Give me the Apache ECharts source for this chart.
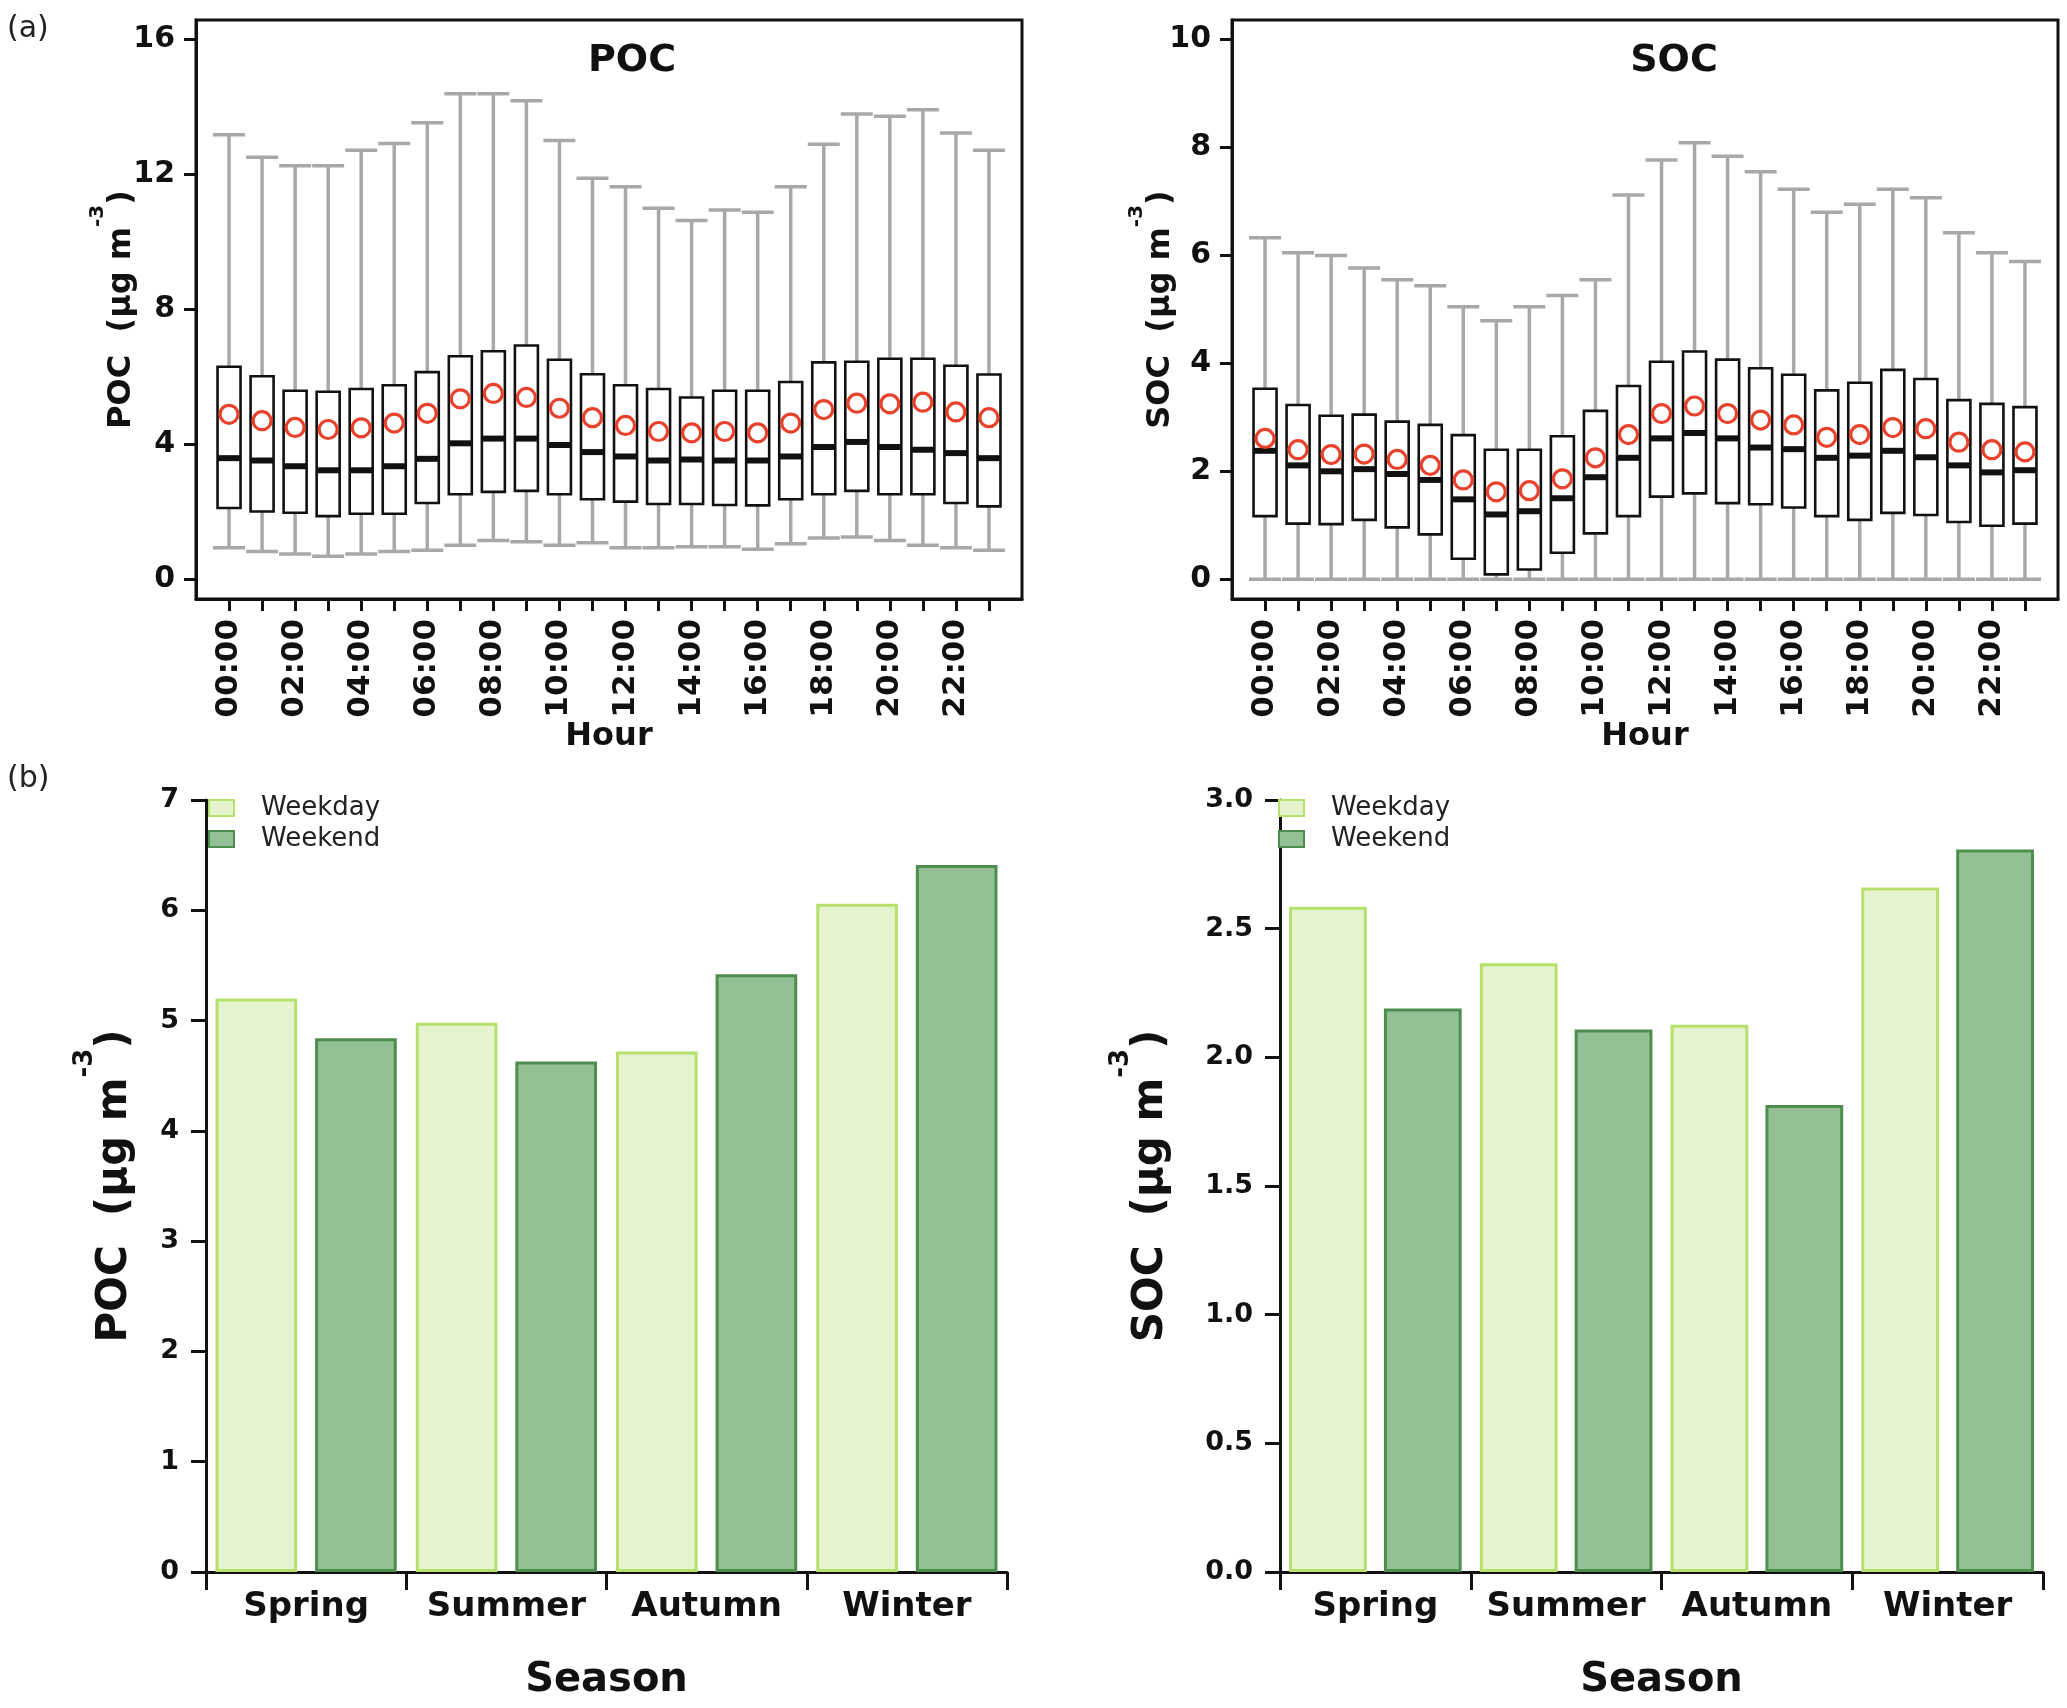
<!DOCTYPE html>
<html><head><meta charset="utf-8">
<script src="https://cdn.jsdelivr.net/npm/echarts@6/dist/echarts.min.js"></script>
<style>html,body{margin:0;padding:0;background:#fff}#c{width:2067px;height:1708px}</style>
</head><body><div id="c"></div>
<script>
// ---------- data ----------
const hours = [0,1,2,3,4,5,6,7,8,9,10,11,12,13,14,15,16,17,18,19,20,21,22,23];
const hourLabels = ['00:00','01:00','02:00','03:00','04:00','05:00','06:00','07:00','08:00','09:00','10:00','11:00','12:00','13:00','14:00','15:00','16:00','17:00','18:00','19:00','20:00','21:00','22:00','23:00'];
const hourLabelValues = [0,2,4,6,8,10,12,14,16,18,20,22];

const pocHigh = [13.18,12.51,12.26,12.26,12.72,12.92,13.54,14.40,14.40,14.19,13.01,11.89,11.64,11.00,10.64,10.95,10.88,11.64,12.90,13.80,13.73,13.92,13.23,12.72];
const pocQ3   = [6.30,6.02,5.59,5.56,5.64,5.75,6.14,6.61,6.76,6.93,6.51,6.08,5.75,5.64,5.39,5.59,5.59,5.85,6.43,6.45,6.54,6.54,6.33,6.07];
const pocMed  = [3.59,3.52,3.35,3.23,3.23,3.35,3.57,4.03,4.17,4.17,3.98,3.77,3.64,3.52,3.55,3.52,3.52,3.64,3.92,4.07,3.92,3.84,3.74,3.59];
const pocQ1   = [2.11,2.01,1.97,1.87,1.94,1.94,2.26,2.52,2.59,2.62,2.52,2.37,2.30,2.23,2.23,2.20,2.19,2.37,2.52,2.62,2.52,2.52,2.26,2.16];
const pocLow  = [0.93,0.82,0.75,0.68,0.75,0.82,0.86,1.01,1.15,1.11,1.01,1.08,0.93,0.93,0.96,0.96,0.89,1.05,1.22,1.25,1.15,1.01,0.93,0.86];
const pocMean = [4.89,4.70,4.50,4.44,4.49,4.63,4.92,5.35,5.51,5.39,5.07,4.79,4.56,4.38,4.34,4.38,4.34,4.63,5.03,5.22,5.20,5.25,4.96,4.79];

const socHigh = [6.33,6.05,6.00,5.77,5.55,5.44,5.05,4.79,5.05,5.26,5.55,7.12,7.77,8.09,7.84,7.55,7.23,6.80,6.95,7.23,7.07,6.42,6.05,5.89];
const socQ3   = [3.53,3.23,3.03,3.05,2.92,2.86,2.67,2.40,2.40,2.65,3.12,3.58,4.03,4.22,4.07,3.91,3.79,3.50,3.64,3.88,3.71,3.32,3.25,3.19];
const socMed  = [2.38,2.11,2.00,2.04,1.95,1.84,1.48,1.20,1.26,1.50,1.89,2.25,2.61,2.71,2.61,2.44,2.41,2.25,2.29,2.38,2.26,2.11,1.98,2.02];
const socQ1   = [1.17,1.03,1.02,1.10,0.96,0.83,0.38,0.09,0.18,0.49,0.85,1.17,1.53,1.59,1.41,1.39,1.33,1.17,1.10,1.23,1.19,1.06,0.99,1.03];
const socLow  = [0,0,0,0,0,0,0,0,0,0,0,0,0,0,0,0,0,0,0,0,0,0,0,0];
const socMean = [2.61,2.40,2.31,2.32,2.22,2.11,1.84,1.62,1.64,1.86,2.25,2.68,3.07,3.21,3.07,2.95,2.86,2.63,2.68,2.81,2.79,2.54,2.40,2.36];

const pocTicks = [0,4,8,12,16];
const socTicks = [0,2,4,6,8,10];

const seasons = ['Spring','Summer','Autumn','Winter'];
const pocWeekday = [5.20,4.98,4.72,6.06];
const pocWeekend = [4.84,4.63,5.42,6.41];
const socWeekday = [2.585,2.366,2.127,2.66];
const socWeekend = [2.19,2.108,1.815,2.808];

// ---------- styling ----------
const FF = 'DejaVu Sans';
const BLACK = '#111';
const box = (low,q1,med,q3,high,mean) => hours.map((h,i)=>[h,low[i],q1[i],med[i],q3[i],high[i],mean[i]]);

function renderBox(params, api){
  const x = api.value(0);
  const P = v => api.coord([x, v]);
  const [cx, yLow] = P(api.value(1));
  const yQ1 = P(api.value(2))[1];
  const yMed = P(api.value(3))[1];
  const yQ3 = P(api.value(4))[1];
  const yHigh = P(api.value(5))[1];
  const yMean = P(api.value(6))[1];
  const bw = 23, cw = 32;
  const gray = {stroke:'#a8a8a8', lineWidth:3.5};
  return {type:'group', children:[
    {type:'line', shape:{x1:cx,y1:yHigh,x2:cx,y2:yQ3}, style:gray},
    {type:'line', shape:{x1:cx,y1:yQ1,x2:cx,y2:yLow}, style:gray},
    {type:'line', shape:{x1:cx-cw/2,y1:yHigh,x2:cx+cw/2,y2:yHigh}, style:gray},
    {type:'line', shape:{x1:cx-cw/2,y1:yLow,x2:cx+cw/2,y2:yLow}, style:gray},
    {type:'rect', shape:{x:cx-bw/2,y:yQ3,width:bw,height:yQ1-yQ3}, style:{fill:'#fff',stroke:BLACK,lineWidth:2.6}},
    {type:'line', shape:{x1:cx-bw/2,y1:yMed,x2:cx+bw/2,y2:yMed}, style:{stroke:BLACK,lineWidth:6}},
    {type:'circle', shape:{cx:cx,cy:yMean,r:9}, style:{fill:'rgba(255,255,255,0)',stroke:'#e8412c',lineWidth:3.2}}
  ]};
}

function yName(label){
  return '{t|' + label + '  (μg m}{s|-3}{t|)}';
}
function yNameStyle(size, supSize, lh){
  return {rich:{
    t:{fontFamily:FF,fontWeight:'bold',fontSize:size,color:BLACK,lineHeight:lh,verticalAlign:'bottom'},
    s:{fontFamily:FF,fontWeight:'bold',fontSize:supSize,color:BLACK,lineHeight:supSize,verticalAlign:'top'}
  }};
}

const topGrid = (left) => ({left:left, top:20, width:826, height:579, show:true, borderColor:BLACK, borderWidth:3, backgroundColor:'transparent'});
const hourAxis = (gi) => ({
  type:'value', gridIndex:gi, min:-1, max:24,
  name:'Hour', nameLocation:'middle', nameGap:122, nameMoveOverlap:false,
  nameTextStyle:{fontFamily:FF,fontWeight:'bold',fontSize:32,color:BLACK},
  axisLine:{show:true,onZero:false,lineStyle:{color:BLACK,width:3}},
  axisTick:{show:true,length:12,lineStyle:{color:BLACK,width:3},customValues:hours},
  axisLabel:{show:true,rotate:90,margin:20,fontFamily:FF,fontWeight:'bold',fontSize:31,color:BLACK,
    customValues:hourLabelValues, formatter:v=>hourLabels[v]},
  splitLine:{show:false}
});
const topYAxis = (gi,min,max,ticks,label,gap) => ({
  type:'value', gridIndex:gi, min:min, max:max,
  name:yName(label), nameLocation:'middle', nameGap:gap, nameMoveOverlap:false,
  nameTextStyle:yNameStyle(32,20,50),
  axisLine:{show:true,onZero:false,lineStyle:{color:BLACK,width:3}},
  axisTick:{show:true,length:12,lineStyle:{color:BLACK,width:3},customValues:ticks},
  axisLabel:{show:true,margin:21,fontFamily:FF,fontWeight:'bold',fontSize:30,color:BLACK,customValues:ticks},
  splitLine:{show:false}
});

const botXAxis = (gi) => ({
  type:'category', gridIndex:gi, data:seasons,
  name:'Season', nameLocation:'middle', nameGap:89, nameMoveOverlap:false,
  nameTextStyle:{fontFamily:FF,fontWeight:'bold',fontSize:40,color:BLACK},
  axisLine:{show:true,lineStyle:{color:BLACK,width:3}},
  axisTick:{show:true,length:18,lineStyle:{color:BLACK,width:3}},
  axisLabel:{interval:0,margin:18,fontFamily:FF,fontWeight:'bold',fontSize:34,color:BLACK},
  splitLine:{show:false}
});
const botYAxis = (gi,max,interval,label,gap,fmt) => ({
  type:'value', gridIndex:gi, min:0, max:max, interval:interval,
  name:yName(label), nameLocation:'middle', nameGap:gap, nameMoveOverlap:false,
  nameTextStyle:yNameStyle(42,26,64),
  axisLine:{show:true,lineStyle:{color:BLACK,width:3}},
  axisTick:{show:true,length:15,lineStyle:{color:BLACK,width:3}},
  axisLabel:{margin:27,fontFamily:FF,fontWeight:'bold',fontSize:27,color:BLACK,formatter:fmt},
  splitLine:{show:false}
});

const wdStyle = {color:'#e5f3cf', borderColor:'#b5e06c', borderWidth:3};
const weStyle = {color:'#94c096', borderColor:'#4d8d4e', borderWidth:3};

const legend = (left) => ({
  left:left, top:795, orient:'vertical', itemWidth:25, itemHeight:16, itemGap:5, padding:0,
  data:['Weekday','Weekend'], icon:'rect',
  textStyle:{fontFamily:FF,fontSize:26,color:'#222',lineHeight:26,padding:[0,0,0,22]}
});

const option = {
  backgroundColor:'#fff',
  animation:false,
  grid:[
    topGrid(196), topGrid(1232),
    {left:206, top:800, width:801, height:772},
    {left:1280, top:800, width:763, height:772}
  ],
  xAxis:[hourAxis(0), hourAxis(1), botXAxis(2), botXAxis(3)],
  yAxis:[
    topYAxis(0,-0.587,16.584,pocTicks,'POC',58),
    topYAxis(1,-0.367,10.365,socTicks,'SOC',55),
    botYAxis(2,7,1,'POC',70,v=>String(v)),
    botYAxis(3,3,0.5,'SOC',108,v=>v.toFixed(1))
  ],
  legend:[legend(208), legend(1278)],
  graphic:[
    {type:'text', left:7, top:14, style:{text:'(a)', font:'30px "DejaVu Sans"', fill:'#222'}},
    {type:'text', left:7, top:764, style:{text:'(b)', font:'30px "DejaVu Sans"', fill:'#222'}},
    {type:'text', x:632, y:61, style:{text:'POC', font:'bold 38px "DejaVu Sans"', fill:BLACK, align:'center', verticalAlign:'middle'}},
    {type:'text', x:1674, y:61, style:{text:'SOC', font:'bold 38px "DejaVu Sans"', fill:BLACK, align:'center', verticalAlign:'middle'}}
  ],
  series:[
    {type:'custom', name:'POC box', xAxisIndex:0, yAxisIndex:0, renderItem:renderBox, data:box(pocLow,pocQ1,pocMed,pocQ3,pocHigh,pocMean), clip:false},
    {type:'custom', name:'SOC box', xAxisIndex:1, yAxisIndex:1, renderItem:renderBox, data:box(socLow,socQ1,socMed,socQ3,socHigh,socMean), clip:false},
    {type:'bar', name:'Weekday', xAxisIndex:2, yAxisIndex:2, data:pocWeekday, itemStyle:wdStyle, barCategoryGap:'9.5%', barGap:'22%'},
    {type:'bar', name:'Weekend', xAxisIndex:2, yAxisIndex:2, data:pocWeekend, itemStyle:weStyle, barCategoryGap:'9.5%', barGap:'22%'},
    {type:'bar', name:'Weekday', xAxisIndex:3, yAxisIndex:3, data:socWeekday, itemStyle:wdStyle, barCategoryGap:'9.5%', barGap:'22%'},
    {type:'bar', name:'Weekend', xAxisIndex:3, yAxisIndex:3, data:socWeekend, itemStyle:weStyle, barCategoryGap:'9.5%', barGap:'22%'}
  ]
};
const chart = echarts.init(document.getElementById('c'), null, {renderer:'canvas'});
chart.setOption(option);
</script></body></html>
